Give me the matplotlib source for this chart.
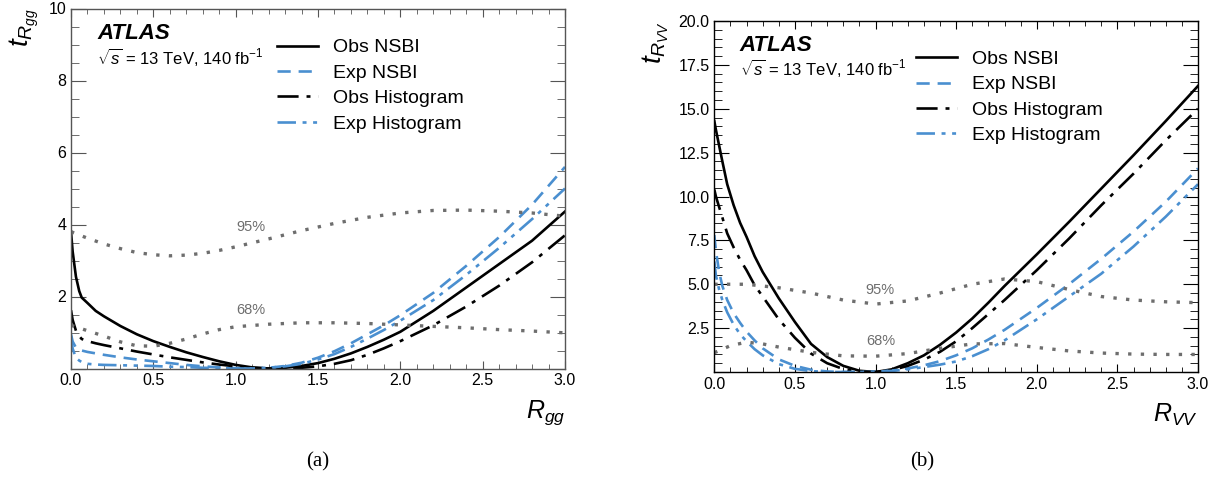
import matplotlib
matplotlib.use("Agg")
import matplotlib.pyplot as plt
from matplotlib.ticker import AutoMinorLocator, MultipleLocator, FuncFormatter

plt.rcParams["font.family"] = ["Liberation Sans", "DejaVu Sans"]
plt.rcParams["mathtext.fontset"] = "custom"
plt.rcParams["mathtext.rm"] = "Liberation Sans"
plt.rcParams["mathtext.it"] = "Liberation Sans:italic"
plt.rcParams["mathtext.bf"] = "Liberation Sans:bold"
plt.rcParams["mathtext.sf"] = "Liberation Sans"

BLUE = "#4a8fd0"
GREY = "#6e6e6e"

# ---------------- Panel (a): R_gg ----------------
x_gg = [0, 0.01, 0.03, 0.05, 0.065, 0.1, 0.15, 0.2, 0.3, 0.4, 0.5, 0.6, 0.7, 0.8, 0.9, 1.0,
        1.1, 1.2, 1.3, 1.4, 1.5, 1.6, 1.7, 1.8, 1.9, 2.0, 2.2, 2.4, 2.6, 2.8, 3.0]
obs_nsbi_gg = [3.8, 3.25, 2.55, 2.15, 1.97, 1.82, 1.6, 1.45, 1.18, 0.95, 0.76, 0.6, 0.45, 0.32, 0.2,
               0.1, 0.03, 0.0, 0.02, 0.07, 0.15, 0.27, 0.42, 0.6, 0.8, 1.02, 1.6, 2.25, 2.9, 3.55, 4.36]
exp_nsbi_gg = [0.95, 0.75, 0.58, 0.53, 0.5, 0.46, 0.42, 0.38, 0.31, 0.25, 0.2, 0.15, 0.1, 0.06, 0.03,
               0.01, 0.0, 0.02, 0.07, 0.16, 0.3, 0.48, 0.7, 0.95, 1.2, 1.48, 2.1, 2.85, 3.65, 4.55, 5.6]
obs_hist_gg = [1.62, 1.35, 1.05, 0.9, 0.82, 0.76, 0.7, 0.65, 0.56, 0.47, 0.39, 0.31, 0.24, 0.17, 0.11,
               0.06, 0.02, 0.0, 0.0, 0.02, 0.06, 0.13, 0.23, 0.38, 0.56, 0.76, 1.2, 1.72, 2.3, 2.95, 3.7]
exp_hist_gg = [0.9, 0.55, 0.3, 0.22, 0.18, 0.13, 0.11, 0.1, 0.09, 0.08, 0.07, 0.05, 0.04, 0.02, 0.01,
               0.0, 0.0, 0.02, 0.06, 0.13, 0.25, 0.4, 0.6, 0.83, 1.07, 1.33, 1.9, 2.6, 3.35, 4.15, 5.0]
x_thr_gg = [0, 0.1, 0.2, 0.3, 0.4, 0.5, 0.6, 0.7, 0.8, 0.9, 1.0, 1.2, 1.4, 1.6, 1.8, 2.0,
            2.2, 2.4, 2.6, 2.8, 3.0]
thr95_gg = [3.8, 3.62, 3.46, 3.33, 3.22, 3.16, 3.13, 3.15, 3.2, 3.28, 3.38, 3.6, 3.83, 4.03, 4.2,
            4.32, 4.39, 4.4, 4.37, 4.32, 4.23]
thr68_gg = [1.2, 1.05, 0.9, 0.74, 0.63, 0.62, 0.7, 0.82, 0.96, 1.08, 1.16, 1.23, 1.27, 1.27, 1.25,
            1.21, 1.17, 1.13, 1.08, 1.04, 0.99]

# ---------------- Panel (b): R_VV ----------------
x_vv = [0, 0.01, 0.03, 0.05, 0.08, 0.12, 0.16, 0.2, 0.25, 0.3, 0.4, 0.5, 0.6, 0.7, 0.8, 0.9, 1.0,
        1.1, 1.2, 1.3, 1.4, 1.5, 1.6, 1.7, 1.8, 2.0, 2.2, 2.4, 2.6, 2.8, 3.0]
obs_nsbi_vv = [14.3, 13.8, 12.9, 12.0, 10.7, 9.5, 8.5, 7.7, 6.6, 5.7, 4.2, 2.85, 1.6, 0.85, 0.35,
               0.07, 0.0, 0.15, 0.5, 0.95, 1.55, 2.25, 3.05, 3.95, 4.9, 6.7, 8.55, 10.45, 12.35, 14.3, 16.3]
exp_nsbi_vv = [7.8, 6.9, 5.7, 4.9, 4.1, 3.35, 2.8, 2.3, 1.8, 1.35, 0.72, 0.35, 0.13, 0.03, 0.0,
               0.0, 0.02, 0.08, 0.2, 0.38, 0.62, 0.95, 1.35, 1.85, 2.4, 3.65, 5.0, 6.45, 8.0, 9.7, 11.6]
obs_hist_vv = [10.4, 10.0, 9.4, 8.8, 7.9, 7.1, 6.4, 5.8, 4.95, 4.3, 3.0, 1.95, 1.05, 0.5, 0.17,
               0.02, 0.0, 0.1, 0.35, 0.7, 1.15, 1.75, 2.5, 3.3, 4.1, 5.8, 7.6, 9.5, 11.3, 13.2, 15.0]
exp_hist_vv = [6.3, 5.5, 4.7, 4.1, 3.4, 2.7, 2.15, 1.75, 1.3, 0.95, 0.45, 0.18, 0.05, 0.0, 0.0,
               0.0, 0.02, 0.06, 0.15, 0.28, 0.42, 0.6, 0.9, 1.3, 1.8, 3.0, 4.3, 5.6, 7.15, 8.85, 10.7]
x_thr_vv = [0, 0.1, 0.2, 0.3, 0.4, 0.6, 0.8, 1.0, 1.2, 1.4, 1.6, 1.8, 2.0, 2.2, 2.4, 2.6, 2.8, 3.0]
thr95_vv = [5.0, 5.0, 5.0, 4.9, 4.8, 4.5, 4.1, 3.87, 4.05, 4.5, 5.0, 5.3, 5.15, 4.7, 4.3, 4.1, 4.0, 3.95]
thr68_vv = [1.1, 1.5, 1.7, 1.6, 1.42, 1.12, 0.92, 0.9, 1.05, 1.35, 1.6, 1.62, 1.4, 1.2, 1.08, 1.02,
            1.0, 1.0]

labels = ["Obs NSBI", "Exp NSBI", "Obs Histogram", "Exp Histogram"]

fig = plt.figure(figsize=(12.29, 4.80), dpi=100)
ax1 = fig.add_axes([71 / 1229, 1 - 368.5 / 480, 494 / 1229, 360 / 480])
ax2 = fig.add_axes([714.3 / 1229, 1 - 372 / 480, 483.7 / 1229, 351 / 480])

dashdotdot = (0, (7, 2.5, 1.5, 2.5, 1.5, 2.5))
dashdot = (0, (8, 3, 1.5, 3))
dashed = (0, (5, 3))
dotted = (0, (1.0, 2.8))


def draw(ax, x, on, en, oh, eh, xt, t95, t68, ymax, ymajor, fmt, xlab, ylab,
         p95, p68, spine_col):
    ax.plot(x, on, color="black", lw=1.9, ls="-", label=labels[0])
    ax.plot(x, en, color=BLUE, lw=1.9, ls=dashed, label=labels[1])
    ax.plot(x, oh, color="black", lw=1.9, ls=dashdot, label=labels[2])
    ax.plot(x, eh, color=BLUE, lw=1.9, ls=dashdotdot, label=labels[3])
    ax.plot(xt, t95, color=GREY, lw=2.4, ls=dotted)
    ax.plot(xt, t68, color=GREY, lw=2.4, ls=dotted)
    ax.text(p95[0], p95[1], "95%", color=GREY, fontsize=10.5, ha="center", va="center")
    ax.text(p68[0], p68[1], "68%", color=GREY, fontsize=10.5, ha="center", va="center")
    ax.set_xlim(0, 3)
    ax.set_ylim(0, ymax)
    ax.xaxis.set_major_locator(MultipleLocator(0.5))
    ax.xaxis.set_minor_locator(AutoMinorLocator(5))
    ax.yaxis.set_major_locator(MultipleLocator(ymajor))
    ax.yaxis.set_minor_locator(AutoMinorLocator(4 if ymajor == 2 else 5))
    ax.xaxis.set_major_formatter(FuncFormatter(lambda v, p: "%.1f" % v))
    ax.yaxis.set_major_formatter(FuncFormatter(lambda v, p: "" if abs(v) < 1e-9 else fmt % v))
    ax.tick_params(which="both", direction="in", top=True, right=True, labelsize=11.5,
                   color=spine_col)
    ax.tick_params(axis="y", which="major", length=11)
    ax.tick_params(axis="y", which="minor", length=5.5)
    ax.tick_params(axis="x", which="major", length=6)
    ax.tick_params(axis="x", which="minor", length=3.5)
    for s in ax.spines.values():
        s.set_color(spine_col)
        s.set_linewidth(1.0)
    ax.set_xlabel(xlab, fontsize=18, loc="right", labelpad=7)
    ax.set_ylabel(ylab, fontsize=20, loc="top", labelpad=5)
    ax.text(0.053, 0.96, "ATLAS", transform=ax.transAxes, fontsize=16,
            fontweight="bold", fontstyle="italic", va="top", ha="left")
    ax.text(0.053, 0.845, r"$\sqrt{s}$ = 13 TeV, 140 fb$^{-1}$", transform=ax.transAxes,
            fontsize=12, va="baseline", ha="left")
    ax.legend(loc="upper left", bbox_to_anchor=(0.418, 0.916), frameon=False, fontsize=14,
              handlelength=2.1, handletextpad=0.75, labelspacing=0.4, borderpad=0,
              borderaxespad=0)


draw(ax1, x_gg, obs_nsbi_gg, exp_nsbi_gg, obs_hist_gg, exp_hist_gg, x_thr_gg, thr95_gg,
     thr68_gg, 10, 2, "%g", r"$R_{gg}$", r"$t_{R_{gg}}$", (1.09, 3.93), (1.09, 1.62), "#555555")
draw(ax2, x_vv, obs_nsbi_vv, exp_nsbi_vv, obs_hist_vv, exp_hist_vv, x_thr_vv, thr95_vv,
     thr68_vv, 20, 2.5, "%.1f", r"$R_{VV}$", r"$t_{R_{VV}}$", (1.03, 4.7), (1.03, 1.76), "black")

fig.text(318 / 1229, 1 - 462 / 480, "(a)", fontsize=15, family="Liberation Serif",
         ha="center", va="center")
fig.text(922 / 1229, 1 - 462 / 480, "(b)", fontsize=15, family="Liberation Serif",
         ha="center", va="center")

fig.savefig("out.png", dpi=100)
